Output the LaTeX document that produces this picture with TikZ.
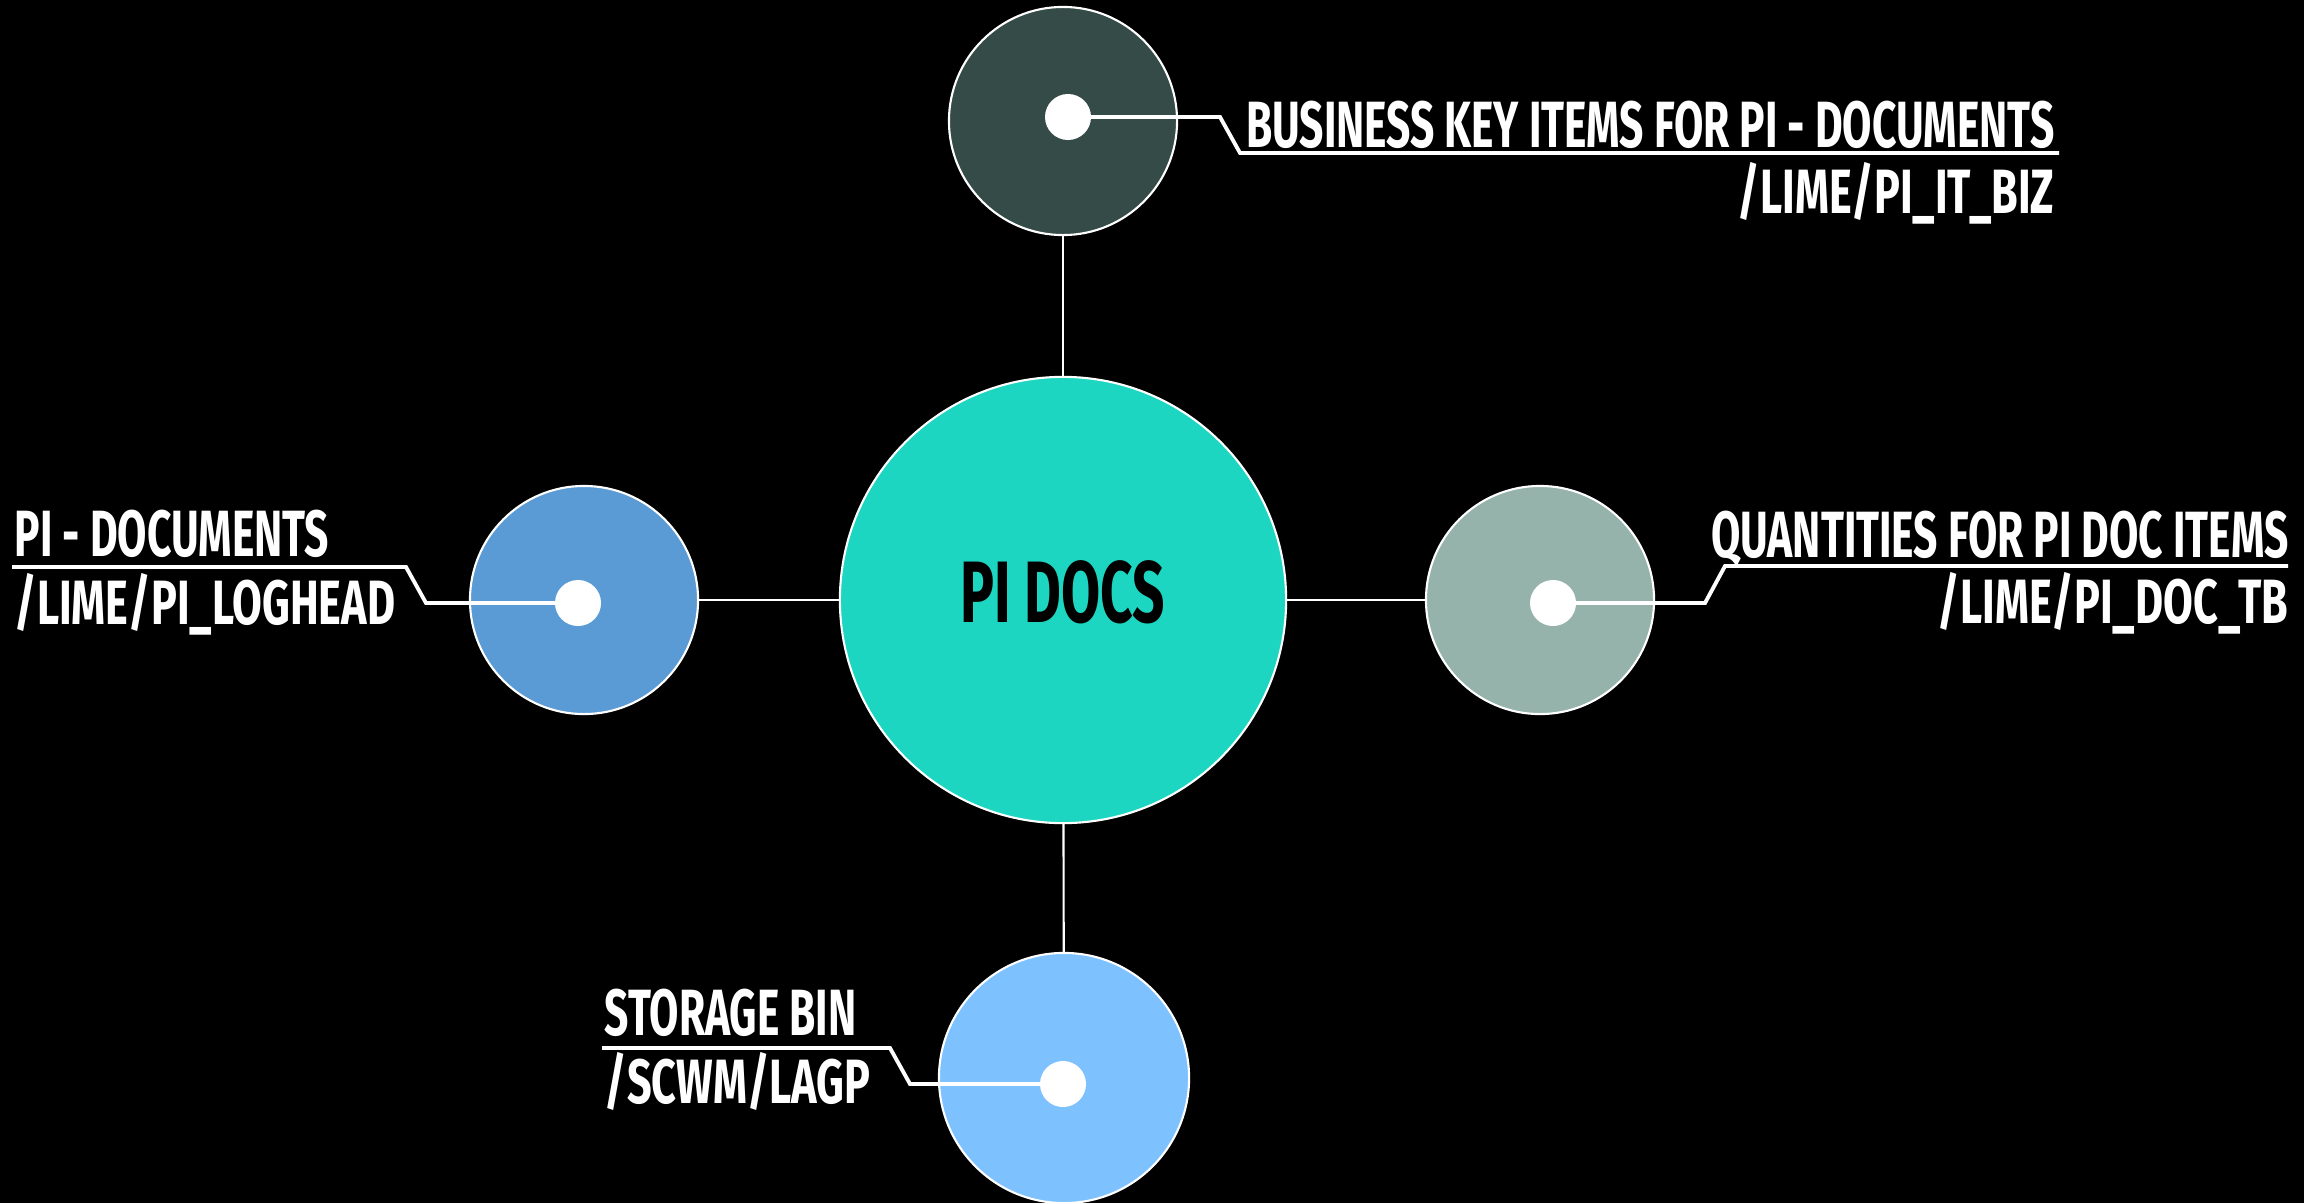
\documentclass[tikz,border=0pt]{standalone}
\usepackage{fontspec}
\newfontfamily\labelfont[FakeStretch=0.65]{Fira Sans}
\newfontfamily\tablelabelfont[FakeStretch=0.69]{Fira Sans}
\usetikzlibrary{positioning}

\definecolor{hubteal}{RGB}{29,214,193}
\definecolor{bizslate}{RGB}{52,75,71}
\definecolor{logblue}{RGB}{91,155,213}
\definecolor{docsage}{RGB}{149,179,170}
\definecolor{binblue}{RGB}{125,193,255}

\begin{document}
\begin{tikzpicture}[
  x=0.01cm, y=-0.01cm,
  every node/.style={
    inner sep=0pt,
    text=white,
  },
  disc/.style={circle, draw=white, line width=0.6pt},
  dot/.style={circle, fill=white, minimum size=0.46cm},
  link/.style={draw=white, line width=0.6pt},
  leader/.style={draw=white, line width=1.1pt},
  titlefont/.style={font=\labelfont\bfseries\fontsize{18.6}{20}\selectfont},
  tablefont/.style={font=\tablelabelfont\bfseries\fontsize{17.8}{20}\selectfont},
]
\useasboundingbox (0,0) rectangle (2304,1203);
\fill[black] (0,0) rectangle (2304,1203);

% circles
\node[disc,fill=hubteal,minimum size=4.46cm] at (1063,600) (hub) {};
\node[disc,fill=bizslate,minimum size=2.28cm] at (1063,121) (biz) {};
\node[disc,fill=logblue,minimum size=2.28cm] at (584,600) (loghead) {};
\node[disc,fill=docsage,minimum size=2.28cm] at (1540,600) (doctb) {};
\node[disc,fill=binblue,minimum size=2.5cm] at (1064,1078) (lagp) {};

\node[text=black,anchor=base,font=\labelfont\bfseries\fontsize{24.8}{26}\selectfont] at (1063,622) (hubtitle) {PI DOCS};

\path[link] (biz) -- (hub);
\path[link] (hub) -- (lagp);
\path[link] (loghead) -- (hub);
\path[link] (hub) -- (doctb);

% dots and leader lines
\node[dot] at (1068,117) (bizdot) {};
\node[dot] at (578,603) (logdot) {};
\node[dot] at (1553,603) (docdot) {};
\node[dot] at (1063,1084) (bindot) {};

\coordinate (bizend) at (2059,153);
\coordinate (logend) at (12,567);
\coordinate (docend) at (2288,566);
\coordinate (binend) at (602,1048);

\path[leader] (bizdot.center) -- ++(152,0) -- ++(20,36) -- (bizend);
\path[leader] (logdot.center) -- ++(-152,0) -- ++(-20,-36) -- (logend);
\path[leader] (docdot.center) -- ++(152,0) -- ++(20,-37) -- (docend);
\path[leader] (bindot.center) -- ++(-153,0) -- ++(-20,-36) -- (binend);

% labels
\node[titlefont,anchor=base east] at (2055,147) (biztitle) {BUSINESS KEY ITEMS FOR PI - DOCUMENTS};
\node[tablefont,anchor=base east] at (2055,213) (biztable) {/LIME/PI\_IT\_BIZ};
\node[titlefont,anchor=base west] at (14,556) (logtitle) {PI - DOCUMENTS};
\node[tablefont,anchor=base west] at (14,624) (logtable) {/LIME/PI\_LOGHEAD};
\node[titlefont,anchor=base east] at (2289,557) (doctitle) {QUANTITIES FOR PI DOC ITEMS};
\node[tablefont,anchor=base east] at (2289,623) (doctable) {/LIME/PI\_DOC\_TB};
\node[titlefont,anchor=base west] at (604,1035) (bintitle) {STORAGE BIN};
\node[tablefont,anchor=base west] at (604,1103) (bintable) {/SCWM/LAGP};
\end{tikzpicture}
\end{document}
